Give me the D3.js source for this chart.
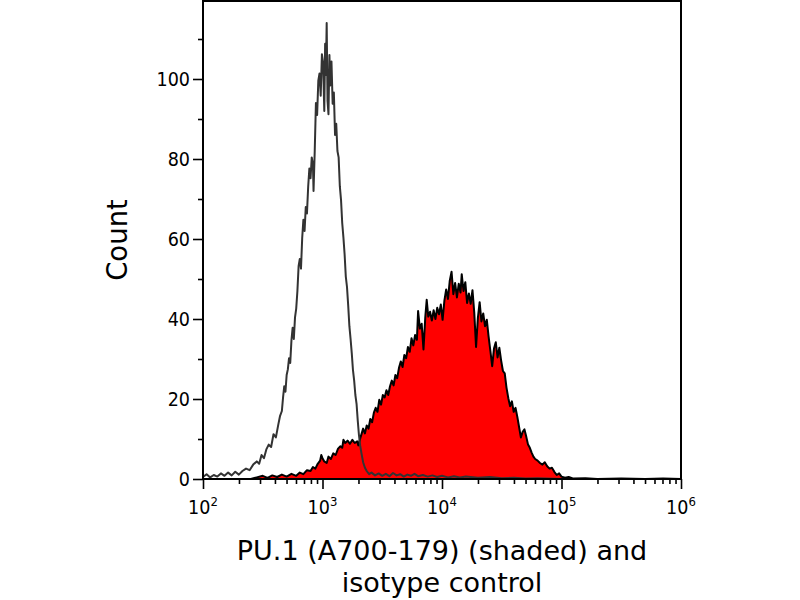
<!DOCTYPE html>
<html>
<head>
<meta charset="utf-8">
<script src="https://cdn.jsdelivr.net/npm/d3@7"></script>
<style>
  body { margin: 0; background: #fff; }
  svg { display: block; }
  text { font-family: "DejaVu Sans Condensed", "DejaVu Sans", sans-serif; fill: #000; }
  .title { font-family: "DejaVu Sans", sans-serif; }
</style>
</head>
<body>
<svg width="800" height="600"></svg>
<script>
// [log10 fluorescence, count]
const isotype = [
  [2.00, 0.5], [2.03, 1.2], [2.06, 0.4], [2.09, 1.0], [2.12, 0.6], [2.15, 1.4],
  [2.18, 0.8], [2.21, 1.6], [2.24, 0.9], [2.27, 1.8], [2.30, 1.1], [2.33, 2.0],
  [2.36, 2.6], [2.39, 2.2], [2.42, 3.6], [2.45, 4.4], [2.47, 3.8], [2.49, 6.0],
  [2.51, 5.2], [2.53, 7.4], [2.55, 8.6], [2.57, 8.0], [2.59, 11.2], [2.61, 10.4],
  [2.63, 13.6], [2.645, 15.8], [2.66, 17.0], [2.67, 20.4], [2.68, 23.2], [2.69, 21.8],
  [2.70, 26.0], [2.71, 27.4], [2.72, 30.2], [2.73, 29.0], [2.74, 34.6], [2.75, 37.8],
  [2.76, 35.0], [2.77, 40.4], [2.78, 42.6], [2.79, 47.0], [2.80, 53.2], [2.81, 55.0],
  [2.82, 52.6], [2.83, 60.2], [2.84, 64.8], [2.85, 62.0], [2.86, 68.0], [2.87, 66.4],
  [2.88, 73.0], [2.89, 77.6], [2.90, 75.2], [2.91, 80.4], [2.92, 78.6], [2.925, 72.0],
  [2.935, 82.0], [2.945, 94.0], [2.955, 91.0], [2.965, 99.6], [2.975, 101.4], [2.985, 95.8],
  [2.995, 106.2], [3.005, 104.0], [3.015, 92.0], [3.022, 108.8], [3.028, 101.0], [3.035, 114.0],
  [3.042, 94.6], [3.05, 91.2], [3.058, 106.0], [3.065, 98.4], [3.075, 104.4], [3.085, 93.8],
  [3.095, 96.6], [3.105, 86.0], [3.115, 88.8], [3.125, 82.0], [3.135, 80.4], [3.145, 73.2],
  [3.155, 69.8], [3.165, 64.0], [3.175, 60.4], [3.185, 56.2], [3.195, 50.6], [3.205, 48.0],
  [3.215, 43.4], [3.225, 38.2], [3.235, 35.0], [3.245, 31.4], [3.255, 27.2], [3.265, 24.6],
  [3.275, 21.0], [3.285, 18.8], [3.295, 14.6], [3.305, 11.0], [3.315, 8.4], [3.325, 6.6],
  [3.34, 4.2], [3.355, 2.8], [3.37, 2.0], [3.39, 1.2], [3.41, 1.6], [3.44, 0.9],
  [3.47, 1.4], [3.50, 0.8], [3.53, 1.3], [3.56, 0.7], [3.59, 1.5], [3.62, 0.9],
  [3.65, 1.2], [3.68, 0.6], [3.71, 1.1], [3.74, 0.8], [3.77, 1.3], [3.80, 0.7],
  [3.84, 1.0], [3.88, 0.6], [3.92, 0.9], [3.96, 0.5], [4.00, 0.8], [4.05, 0.4],
  [4.10, 0.7], [4.15, 0.4], [4.20, 0.6], [4.30, 0.3], [4.40, 0.5], [4.50, 0.2],
  [4.60, 0.3], [4.70, 0.1], [4.80, 0.2], [5.00, 0], [6.00, 0]
];

const pu1 = [
  [2.40, 0], [2.45, 0.4], [2.50, 0.8], [2.54, 0.3], [2.58, 0.9], [2.62, 0.5],
  [2.66, 1.1], [2.70, 0.6], [2.74, 1.3], [2.78, 0.8], [2.81, 1.6], [2.84, 1.2],
  [2.87, 2.2], [2.90, 2.0], [2.92, 3.0], [2.94, 2.6], [2.96, 3.8], [2.98, 4.6],
  [2.99, 6.0], [3.00, 5.2], [3.015, 4.4], [3.035, 4.0], [3.05, 5.6], [3.07, 5.0],
  [3.09, 6.4], [3.11, 6.0], [3.13, 7.6], [3.15, 8.2], [3.165, 7.8], [3.175, 9.8],
  [3.19, 9.0], [3.21, 9.6], [3.23, 8.8], [3.25, 9.8], [3.27, 9.0], [3.29, 9.4],
  [3.30, 8.4], [3.32, 10.6], [3.34, 12.6], [3.355, 11.4], [3.37, 13.4], [3.385, 12.6],
  [3.40, 15.0], [3.415, 14.2], [3.43, 16.6], [3.445, 17.8], [3.46, 16.8], [3.475, 19.8],
  [3.49, 18.6], [3.505, 21.0], [3.52, 20.4], [3.535, 22.2], [3.55, 21.0], [3.565, 23.2],
  [3.58, 24.6], [3.595, 23.4], [3.61, 26.0], [3.625, 25.2], [3.64, 27.8], [3.655, 29.4],
  [3.67, 28.0], [3.685, 31.0], [3.70, 30.2], [3.715, 33.0], [3.73, 31.8], [3.745, 35.2],
  [3.76, 33.4], [3.775, 36.0], [3.79, 34.8], [3.80, 42.0], [3.815, 37.6], [3.83, 38.8],
  [3.845, 32.4], [3.86, 40.4], [3.872, 44.8], [3.885, 40.6], [3.90, 41.8], [3.915, 39.6],
  [3.93, 42.2], [3.945, 40.0], [3.96, 42.8], [3.975, 41.2], [3.99, 43.6], [4.005, 39.8],
  [4.02, 44.6], [4.035, 47.4], [4.05, 45.0], [4.065, 49.6], [4.08, 51.8], [4.095, 46.2],
  [4.11, 49.0], [4.125, 45.4], [4.14, 48.8], [4.155, 46.6], [4.165, 51.2], [4.18, 47.0],
  [4.195, 49.2], [4.21, 44.0], [4.225, 46.4], [4.24, 43.8], [4.255, 47.2], [4.27, 41.6],
  [4.285, 33.0], [4.30, 40.2], [4.315, 44.2], [4.33, 39.4], [4.345, 41.4], [4.36, 38.2],
  [4.375, 39.8], [4.39, 35.6], [4.405, 32.0], [4.42, 28.2], [4.435, 32.6], [4.45, 34.2],
  [4.465, 30.4], [4.48, 32.8], [4.495, 29.6], [4.51, 27.0], [4.525, 26.4], [4.54, 22.8],
  [4.555, 20.2], [4.57, 18.2], [4.585, 19.4], [4.60, 16.8], [4.615, 17.8], [4.63, 15.6],
  [4.645, 13.0], [4.66, 10.4], [4.675, 11.8], [4.69, 12.4], [4.705, 10.6], [4.72, 8.6],
  [4.735, 7.8], [4.75, 6.6], [4.765, 5.6], [4.78, 5.0], [4.80, 4.6], [4.82, 4.0],
  [4.84, 3.6], [4.86, 4.2], [4.88, 3.2], [4.90, 2.6], [4.92, 2.8], [4.94, 1.8],
  [4.96, 1.0], [4.98, 1.4], [5.00, 0.6], [5.03, 0.3], [5.06, 0.5], [5.10, 0.1],
  [5.20, 0.2], [5.30, 0], [5.50, 0.1], [5.70, 0], [5.85, 0.1], [6.00, 0]
];

const yMajor = [0, 20, 40, 60, 80, 100];
const yMinor = [10, 30, 50, 70, 90, 110];
const xDecades = [2, 3, 4, 5, 6];
const xMinorMult = [2, 3, 4, 5, 6, 7, 8, 9];
const xTitle = ["PU.1 (A700-179) (shaded) and", "isotype control"];
const yTitle = "Count";

const plotLeft = 203, plotRight = 681, plotTop = 1, plotBottom = 479;

const svg = d3.select("svg");

const x = d3.scaleLog().domain([1e2, 1e6]).range([plotLeft, plotRight]);
const y = d3.scaleLinear().domain([0, 119.5]).range([plotBottom, plotTop]);

const xOf = (d) => x(Math.pow(10, d[0]));

// shaded PU.1 histogram
svg.append("path")
  .datum(pu1)
  .attr("fill", "#ff0000")
  .attr("d", d3.area().x(xOf).y0(y(0)).y1((d) => y(d[1])));

svg.append("path")
  .datum(pu1)
  .attr("fill", "none")
  .attr("stroke", "#000")
  .attr("stroke-width", 2)
  .attr("stroke-linejoin", "round")
  .attr("d", d3.line().x(xOf).y((d) => y(d[1])));

// isotype control outline
svg.append("path")
  .datum(isotype)
  .attr("fill", "none")
  .attr("stroke", "#333")
  .attr("stroke-width", 2)
  .attr("stroke-linejoin", "round")
  .attr("d", d3.line().x(xOf).y((d) => y(d[1])));

// y axis
const yAx = svg.append("g").attr("transform", `translate(${plotLeft},0)`);
yAx.call(d3.axisLeft(y).tickValues(yMajor).tickSize(10).tickPadding(3).tickSizeOuter(0));
yAx.append("g").call(d3.axisLeft(y).tickValues(yMinor).tickSize(5).tickFormat("").tickSizeOuter(0));
yAx.selectAll(".domain").remove();
yAx.selectAll("line").attr("stroke", "#000").attr("stroke-width", 1.6);
yAx.selectAll("text").style("font-size", "19.5px").attr("fill", "#000");

// x axis
const xMinor = [];
xDecades.slice(0, -1).forEach((e) => xMinorMult.forEach((m) => xMinor.push(m * Math.pow(10, e))));
const xAx = svg.append("g").attr("transform", `translate(0,${plotBottom})`);
xAx.call(d3.axisBottom(x).tickValues(xDecades.map((e) => Math.pow(10, e))).tickSize(10).tickFormat("").tickSizeOuter(0));
xAx.append("g").call(d3.axisBottom(x).tickValues(xMinor).tickSize(5).tickFormat("").tickSizeOuter(0));
xAx.selectAll(".domain").remove();
xAx.selectAll("line").attr("stroke", "#000").attr("stroke-width", 1.6);

const xLab = svg.append("g").selectAll("text")
  .data(xDecades)
  .join("text")
  .attr("x", (e) => x(Math.pow(10, e)))
  .attr("y", 514)
  .attr("text-anchor", "middle")
  .style("font-size", "19.5px");
xLab.append("tspan").text("10");
xLab.append("tspan").attr("dy", -8).style("font-size", "13px").text((e) => e);

// frame
svg.append("rect")
  .attr("x", plotLeft).attr("y", plotTop)
  .attr("width", plotRight - plotLeft).attr("height", plotBottom - plotTop)
  .attr("fill", "none").attr("stroke", "#000").attr("stroke-width", 2);

// titles
svg.append("text")
  .attr("class", "title")
  .attr("transform", `translate(127,${(plotTop + plotBottom) / 2}) rotate(-90)`)
  .attr("text-anchor", "middle")
  .style("font-size", "27.5px")
  .text(yTitle);

svg.append("g").selectAll("text")
  .data(xTitle)
  .join("text")
  .attr("class", "title")
  .attr("x", (plotLeft + plotRight) / 2)
  .attr("y", (d, i) => 560 + i * 32)
  .attr("text-anchor", "middle")
  .style("font-size", "27px")
  .text((d) => d);
</script>
</body>
</html>
